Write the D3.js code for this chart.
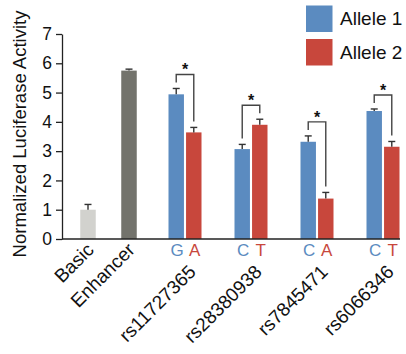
<!DOCTYPE html>
<html>
<head>
<meta charset="utf-8">
<script src="https://cdn.jsdelivr.net/npm/d3@7"></script>
<style>
body { margin: 0; background: #fff; }
text { font-family: "Liberation Sans", Arial, Helvetica, sans-serif; }
</style>
</head>
<body>
<script>
var w = 406;
var h = 354;

// data
var controls = ["Basic", "Enhancer"];
var controlValues = [1.0, 5.75];
var controlErrors = [0.18, 0.05];
var controlColors = ["#d2d2ce", "#73736c"];

var snps = ["rs11727365", "rs28380938", "rs7845471", "rs6066346"];
var allele1 = [4.94, 3.07, 3.32, 4.37];
var allele1Err = [0.2, 0.16, 0.2, 0.07];
var allele2 = [3.64, 3.90, 1.38, 3.15];
var allele2Err = [0.17, 0.19, 0.21, 0.18];
var allele1Base = ["G", "C", "C", "C"];
var allele2Base = ["A", "T", "A", "T"];

var seriesNames = ["Allele 1", "Allele 2"];
var seriesColors = ["#5b8bc0", "#c8473c"];
var yTicks = [0, 1, 2, 3, 4, 5, 6, 7];

var svg = d3.select("body")
            .append("svg")
            .attr("width", w)
            .attr("height", h);

var y = d3.scaleLinear().domain([0, 7]).range([239, 34]);
var xCtrl = d3.scalePoint().domain(controls).range([88, 129]);
var xSnp = d3.scalePoint().domain(snps).range([185, 383]);
var xInner = d3.scaleBand().domain([0, 1]).range([-16.5, 16.5]).paddingInner(0.12);
var ctrlWidth = 15.5;

// y axis
var yAxis = svg.append("g")
    .attr("transform", "translate(62,0)")
    .call(d3.axisLeft(y).tickValues(yTicks).tickSize(6).tickSizeOuter(0).tickPadding(4).tickFormat(d3.format("d")));
yAxis.select(".domain").attr("stroke", "#222").attr("stroke-width", 1.3);
yAxis.selectAll(".tick line").attr("stroke", "#222").attr("stroke-width", 1.3);
yAxis.selectAll(".tick text")
    .style("font-size", "17.5px")
    .style("font-family", "'Liberation Sans', Arial, sans-serif")
    .attr("fill", "#111");

svg.append("text")
    .attr("transform", "translate(26,134) rotate(-90)")
    .attr("text-anchor", "middle")
    .style("font-size", "18.5px")
    .attr("fill", "#111")
    .text("Normalized Luciferase Activity");

// control bars
controls.forEach(function(c, i) {
    var cx = xCtrl(c);
    svg.append("rect")
        .attr("x", cx - ctrlWidth / 2)
        .attr("y", y(controlValues[i]))
        .attr("width", ctrlWidth)
        .attr("height", y(0) - y(controlValues[i]))
        .attr("fill", controlColors[i]);
    errorBar(cx, controlValues[i], controlErrors[i]);
});

// allele bars
var allVals = [allele1, allele2];
var allErrs = [allele1Err, allele2Err];
var allBases = [allele1Base, allele2Base];

snps.forEach(function(s, i) {
    var cx = xSnp(s);
    var tops = [];
    [0, 1].forEach(function(k) {
        var v = allVals[k][i];
        var bx = cx + xInner(k);
        svg.append("rect")
            .attr("x", bx)
            .attr("y", y(v))
            .attr("width", xInner.bandwidth())
            .attr("height", y(0) - y(v))
            .attr("fill", seriesColors[k]);
        errorBar(bx + xInner.bandwidth() / 2, v, allErrs[k][i]);
        tops.push(y(v + allErrs[k][i]));
        svg.append("text")
            .attr("x", bx + xInner.bandwidth() / 2 + 1)
            .attr("y", 256)
            .attr("text-anchor", "middle")
            .style("font-size", "17px")
            .attr("fill", seriesColors[k])
            .text(allBases[k][i]);
    });
    // significance bracket
    var lx = cx + xInner(0) + xInner.bandwidth() / 2;
    var rx = cx + xInner(1) + xInner.bandwidth() / 2;
    var topY = Math.min(tops[0], tops[1]) - 14;
    svg.append("path")
        .attr("d", d3.line()([[lx, tops[0] - 6], [lx, topY], [rx, topY], [rx, tops[1] - 6]]))
        .attr("fill", "none")
        .attr("stroke", "#444")
        .attr("stroke-width", 1.4);
    svg.append("text")
        .attr("x", (lx + rx) / 2)
        .attr("y", topY + 1)
        .attr("text-anchor", "middle")
        .style("font-size", "16px")
        .style("font-weight", "bold")
        .attr("fill", "#111")
        .text("*");
});

// x axis line
svg.append("line")
    .attr("x1", 62).attr("x2", 400)
    .attr("y1", y(0)).attr("y2", y(0))
    .attr("stroke", "#222")
    .attr("stroke-width", 1.3);

// rotated category labels
controls.forEach(function(c) {
    svg.append("text")
        .attr("transform", "translate(" + (xCtrl(c) + 7) + ",251) rotate(-45)")
        .attr("text-anchor", "end")
        .style("font-size", "19px")
        .attr("fill", "#111")
        .text(c);
});
snps.forEach(function(s) {
    svg.append("text")
        .attr("transform", "translate(" + (xSnp(s) + 12) + ",273) rotate(-45)")
        .attr("text-anchor", "end")
        .style("font-size", "19px")
        .attr("fill", "#111")
        .text(s);
});

// legend
seriesNames.forEach(function(n, i) {
    svg.append("rect")
        .attr("x", 306)
        .attr("y", 5.5 + i * 33.5)
        .attr("width", 26.5)
        .attr("height", 26.5)
        .attr("fill", seriesColors[i]);
    svg.append("text")
        .attr("x", 340)
        .attr("y", 5.5 + i * 33.5 + 13.25 + 6.5)
        .style("font-size", "19px")
        .attr("fill", "#111")
        .text(n);
});

function errorBar(cx, v, e) {
    svg.append("line")
        .attr("x1", cx).attr("x2", cx)
        .attr("y1", y(v)).attr("y2", y(v + e))
        .attr("stroke", "#333").attr("stroke-width", 1.4);
    svg.append("line")
        .attr("x1", cx - 3.5).attr("x2", cx + 3.5)
        .attr("y1", y(v + e)).attr("y2", y(v + e))
        .attr("stroke", "#333").attr("stroke-width", 1.4);
}
</script>
</body>
</html>
